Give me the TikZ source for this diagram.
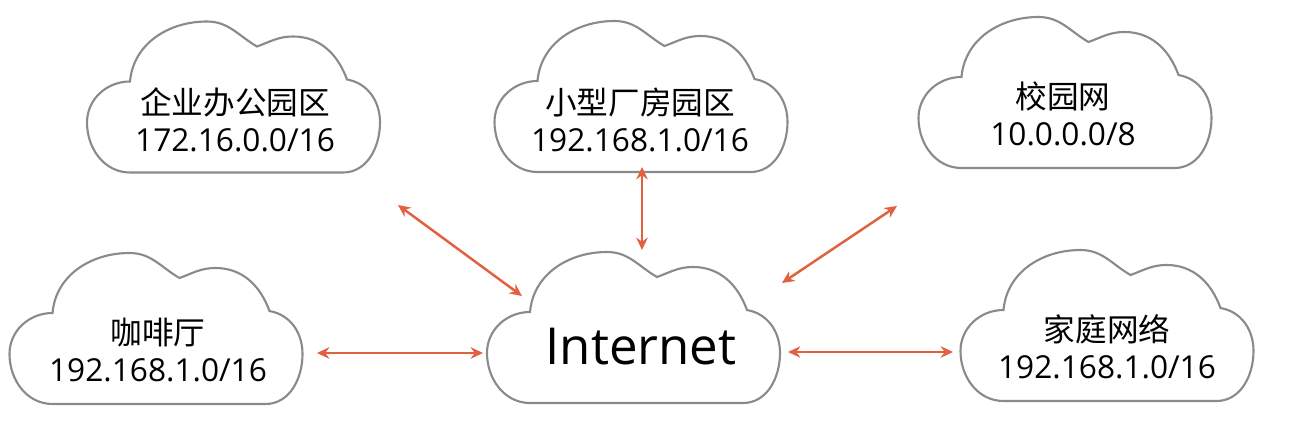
\documentclass[tikz,border=0pt]{standalone}
\usepackage{fontspec}
\setmainfont{Open Sans}
\newfontfamily\cjk{Noto Sans CJK SC}
\usetikzlibrary{arrows.meta}
\definecolor{linkred}{HTML}{E2603F}
\definecolor{cloudgray}{HTML}{8A8A8A}
\tikzset{
  netcloud/.pic = {
    \draw[draw=cloudgray, line width=1.2pt, fill=white]
      (-2.07,-1.50) -- (2.19,-1.50)
      to[out=0,in=-90] (2.93,-0.50)
      to[out=90,in=-10] (2.27,0.36)
      to[out=110,in=0] (1.19,1.22)
      to[out=180,in=20] (0.47,1.02)
      to[out=150,in=0] (-0.53,1.52)
      to[out=180,in=85] (-2.07,0.32)
      to[out=180,in=90] (-2.93,-0.50)
      to[out=-90,in=180] cycle;
  },
  netlabel/.style = {align=center, inner sep=0pt, font=\fontsize{18}{21}\selectfont},
  link/.style = {draw=linkred, line width=1.4pt, {Stealth[length=7pt,width=6.5pt]}-{Stealth[length=7pt,width=6.5pt]}}
}
\begin{document}
\begin{tikzpicture}
\useasboundingbox (0,0) rectangle (25.8,8.54);
% clouds
\pic at (4.67,6.59) {netcloud};
\pic at (12.82,6.60) {netcloud};
\pic at (21.30,6.68) {netcloud};
\pic at (3.12,1.96) {netcloud};
\pic at (12.67,1.98) {netcloud};
\pic at (22.14,2.02) {netcloud};
\begin{scope}[every node/.style = {netlabel}]
\node (office) at (4.70,6.15) {{\cjk 企业办公园区}\\172.16.0.0/16};
\node (factory) at (12.80,6.14) {{\cjk 小型厂房园区}\\192.168.1.0/16};
\node (campus) at (21.26,6.27) {{\cjk 校园网}\\10.0.0.0/8};
\node (cafe) at (3.16,1.54) {{\cjk 咖啡厅}\\192.168.1.0/16};
\node (home) at (22.14,1.61) {{\cjk 家庭网络}\\192.168.1.0/16};
\node[font=\fontsize{29}{34}\selectfont] (internet) at (12.82,1.60) {Internet};
\end{scope}
% link ends
\coordinate (office-l) at (7.96,4.44);
\coordinate (office-r) at (10.44,2.62);
\coordinate (factory-l) at (12.84,5.20);
\coordinate (factory-r) at (12.84,3.54);
\coordinate (campus-l) at (17.94,4.42);
\coordinate (campus-r) at (15.64,2.88);
\coordinate (cafe-l) at (6.34,1.48);
\coordinate (cafe-r) at (9.66,1.48);
\coordinate (home-l) at (15.76,1.50);
\coordinate (home-r) at (19.06,1.50);
\begin{scope}[every path/.style = {link}]
\path (office-l) -- (office-r);
\path (factory-l) -- (factory-r);
\path (campus-l) -- (campus-r);
\path (cafe-l) -- (cafe-r);
\path (home-l) -- (home-r);
\end{scope}
\end{tikzpicture}
\end{document}
